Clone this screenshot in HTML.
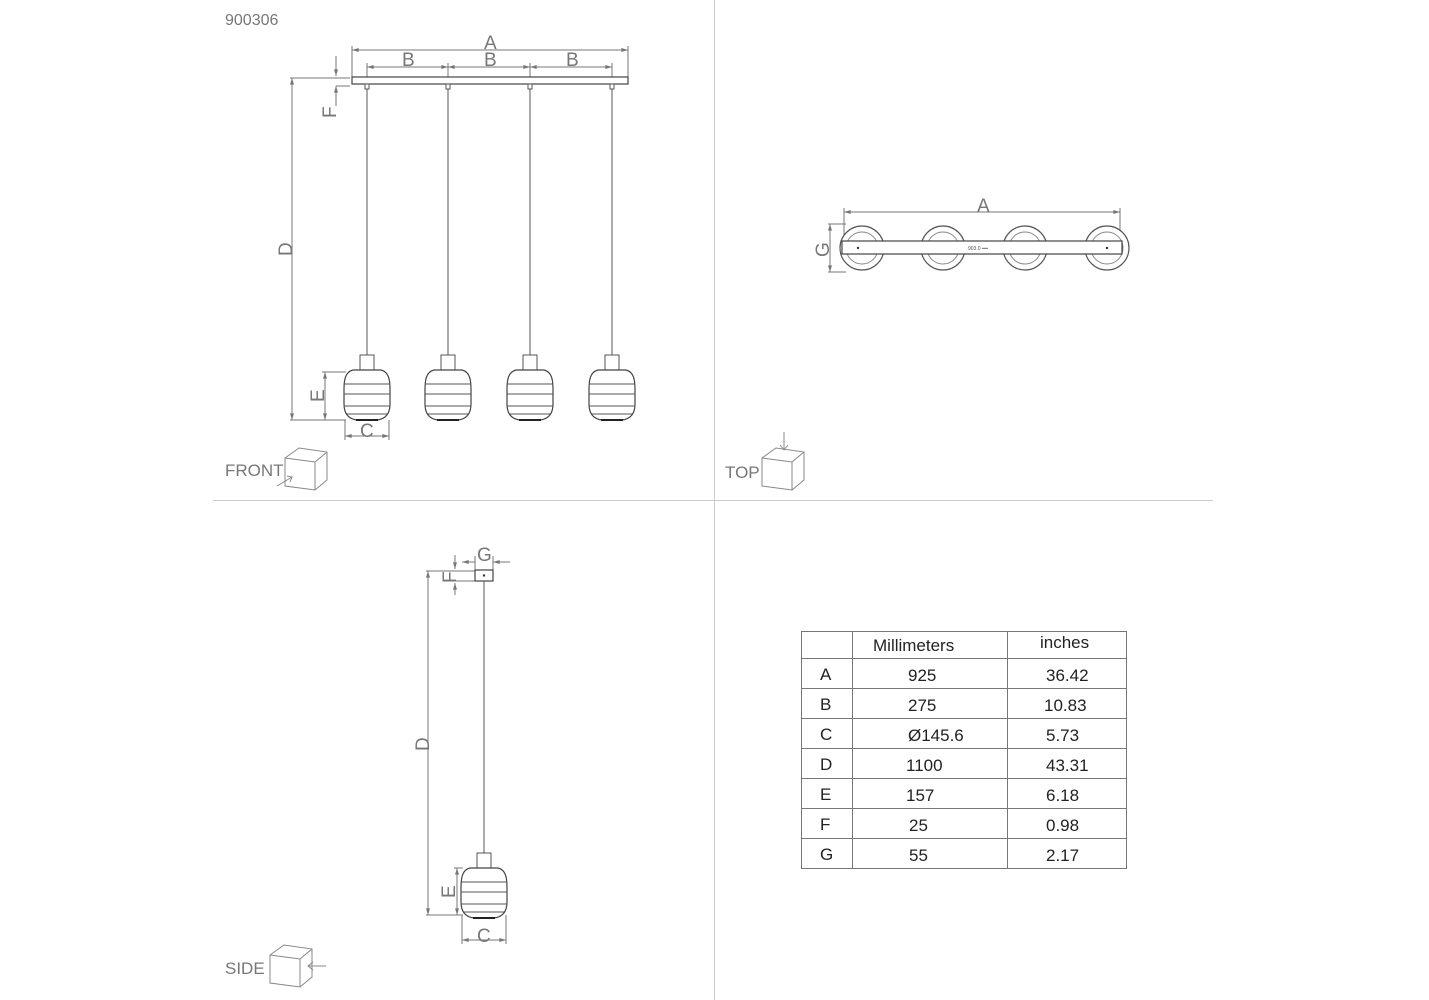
<!DOCTYPE html>
<html><head><meta charset="utf-8"><style>
html,body{margin:0;padding:0;background:#fff;}
svg{display:block;font-family:"Liberation Sans",sans-serif;}
</style></head><body>
<svg width="1429" height="1000" viewBox="0 0 1429 1000" xmlns="http://www.w3.org/2000/svg">
<defs>
<marker id="ar" viewBox="0 0 10 6" refX="10" refY="3" markerWidth="8" markerHeight="4" orient="auto-start-reverse"><path d="M0,0 L10,3 L0,6 z" fill="#777"/></marker>
<g id="lamp">
  <rect x="-7" y="-15" width="14" height="16" fill="#fff" stroke="#555" stroke-width="1"/>
  <path d="M-14,0 C-22,2 -23,10 -23,20 L-23,34 C-23,44 -18,49 -10,50 L10,50 C18,49 23,44 23,34 L23,20 C23,10 22,2 14,0 Z" fill="#fff" stroke="#444" stroke-width="1.2"/>
  <line x1="-23" y1="14" x2="23" y2="14" stroke="#555"/>
  <line x1="-23" y1="24" x2="23" y2="24" stroke="#555"/>
  <line x1="-23" y1="36" x2="23" y2="36" stroke="#555"/>
  <line x1="-20" y1="44" x2="20" y2="44" stroke="#555"/>
  <line x1="-11" y1="50" x2="11" y2="50" stroke="#222" stroke-width="2"/>
</g>
<g id="cube" fill="#fff" stroke="#888" stroke-width="1">
  <path d="M0,10 L14,0 L42,4 L42,32 L30,42 L0,38 Z"/>
  <path d="M0,10 L30,14 L42,4 M30,14 L30,42"/>
</g>
</defs>
<g stroke="#ccc" stroke-width="1">
<line x1="714.5" y1="0" x2="714.5" y2="1000"/>
<line x1="213" y1="500.5" x2="1213" y2="500.5"/>
</g>
<text x="225" y="25" font-size="16" fill="#777">900306</text>

<!-- FRONT -->
<g stroke="#777" stroke-width="1" fill="none">
<line x1="352" y1="50" x2="628" y2="50" marker-start="url(#ar)" marker-end="url(#ar)"/>
<line x1="352" y1="46" x2="352" y2="78"/><line x1="628" y1="46" x2="628" y2="78"/>
<line x1="367" y1="67" x2="448" y2="67" marker-start="url(#ar)" marker-end="url(#ar)"/>
<line x1="448" y1="67" x2="530" y2="67" marker-start="url(#ar)" marker-end="url(#ar)"/>
<line x1="530" y1="67" x2="612" y2="67" marker-start="url(#ar)" marker-end="url(#ar)"/>
<line x1="367" y1="63" x2="367" y2="78"/><line x1="448" y1="63" x2="448" y2="78"/><line x1="530" y1="63" x2="530" y2="78"/><line x1="612" y1="63" x2="612" y2="78"/>
<line x1="290" y1="78" x2="350" y2="78"/>
<line x1="292" y1="78" x2="292" y2="420" marker-start="url(#ar)" marker-end="url(#ar)"/>
<line x1="290" y1="420" x2="346" y2="420"/>
<line x1="336" y1="56" x2="336" y2="76" marker-end="url(#ar)"/>
<line x1="336" y1="106" x2="336" y2="86" marker-end="url(#ar)"/>
<line x1="336" y1="86" x2="350" y2="86"/>
<line x1="322" y1="372" x2="346" y2="372"/>
<line x1="325" y1="372" x2="325" y2="420" marker-start="url(#ar)" marker-end="url(#ar)"/>
<line x1="345" y1="420" x2="345" y2="440"/><line x1="389" y1="420" x2="389" y2="440"/>
<line x1="345" y1="436" x2="389" y2="436" marker-start="url(#ar)" marker-end="url(#ar)"/>
</g>
<g fill="#777" font-size="19">
<text x="484" y="49">A</text>
<text x="402" y="66">B</text><text x="484" y="66">B</text><text x="566" y="66">B</text>
<text x="360" y="437">C</text>
<text transform="translate(292,256) rotate(-90)">D</text>
<text transform="translate(324,402) rotate(-90)">E</text>
<text transform="translate(336,118) rotate(-90)">F</text>
</g>
<rect x="352" y="77" width="276" height="7" fill="#fff" stroke="#444" stroke-width="1.2"/>
<g stroke="#555" fill="#fff">
<rect x="365" y="84" width="4" height="5"/><rect x="446" y="84" width="4" height="5"/><rect x="528" y="84" width="4" height="5"/><rect x="610" y="84" width="4" height="5"/>
<line x1="367" y1="89" x2="367" y2="355"/><line x1="448" y1="89" x2="448" y2="355"/><line x1="530" y1="89" x2="530" y2="355"/><line x1="612" y1="89" x2="612" y2="355"/>
</g>
<use href="#lamp" x="367" y="370"/><use href="#lamp" x="448" y="370"/><use href="#lamp" x="530" y="370"/><use href="#lamp" x="612" y="370"/>
<text x="225" y="476" font-size="17" fill="#777">FRONT</text>
<use href="#cube" x="285" y="448"/>
<path d="M277,486 L292,477 M287,476 L292,477 L290,482" stroke="#888" fill="none"/>

<!-- TOP -->
<g stroke="#777" fill="none">
<line x1="844" y1="212" x2="1120" y2="212" marker-start="url(#ar)" marker-end="url(#ar)"/>
<line x1="844" y1="208" x2="844" y2="240"/><line x1="1120" y1="208" x2="1120" y2="240"/>
<line x1="828" y1="224" x2="846" y2="224"/><line x1="828" y1="272" x2="846" y2="272"/>
<line x1="830" y1="224" x2="830" y2="272" marker-start="url(#ar)" marker-end="url(#ar)"/>
</g>
<text x="977" y="212" font-size="19" fill="#777">A</text>
<text transform="translate(829,257) rotate(-90)" font-size="19" fill="#777">G</text>
<g stroke="#555" fill="#fff" stroke-width="1.2">
<circle cx="862" cy="248" r="22"/><circle cx="943" cy="248" r="22"/><circle cx="1025" cy="248" r="22"/><circle cx="1107" cy="248" r="22"/>
</g>
<g stroke="#888" fill="none">
<circle cx="862" cy="248" r="16"/><circle cx="943" cy="248" r="16"/><circle cx="1025" cy="248" r="16"/><circle cx="1107" cy="248" r="16"/>
</g>
<rect x="842" y="241" width="280" height="13" fill="#fff" stroke="#444" stroke-width="1.2"/>
<circle cx="858" cy="248" r="1.2" fill="#333"/><circle cx="1107" cy="248" r="1.2" fill="#333"/>
<text x="968" y="250" font-size="5" fill="#555">903.0 ━━</text>
<text x="725" y="478" font-size="17" fill="#777">TOP</text>
<use href="#cube" x="762" y="448"/>
<path d="M784,432 L784,450 M780,445 L784,450 L788,445" stroke="#888" fill="none"/>

<!-- SIDE -->
<g stroke="#777" fill="none">
<line x1="462" y1="562" x2="475" y2="562" marker-start="url(#ar)"/>
<line x1="493" y1="562" x2="510" y2="562" marker-start="url(#ar)"/>
<line x1="475" y1="556" x2="475" y2="570"/><line x1="493" y1="556" x2="493" y2="570"/>
<line x1="426" y1="571" x2="475" y2="571"/>
<line x1="428" y1="571" x2="428" y2="915" marker-start="url(#ar)" marker-end="url(#ar)"/>
<line x1="426" y1="915" x2="463" y2="915"/>
<line x1="455" y1="555" x2="455" y2="569" marker-end="url(#ar)"/>
<line x1="455" y1="595" x2="455" y2="583" marker-end="url(#ar)"/>
<line x1="452" y1="581" x2="475" y2="581"/>
<line x1="454" y1="868" x2="463" y2="868"/>
<line x1="457" y1="868" x2="457" y2="915" marker-start="url(#ar)" marker-end="url(#ar)"/>
<line x1="462" y1="915" x2="462" y2="944"/><line x1="506" y1="915" x2="506" y2="944"/>
<line x1="462" y1="940" x2="506" y2="940" marker-start="url(#ar)" marker-end="url(#ar)"/>
</g>
<g fill="#777" font-size="19">
<text x="477" y="561">G</text>
<text transform="translate(456,583) rotate(-90)">F</text>
<text transform="translate(429,751) rotate(-90)">D</text>
<text transform="translate(455,898) rotate(-90)">E</text>
<text x="477" y="942">C</text>
</g>
<rect x="475" y="570" width="18" height="11" fill="#fff" stroke="#444" stroke-width="1.2"/>
<circle cx="484" cy="575.5" r="1.2" fill="#333"/>
<line x1="484" y1="581" x2="484" y2="853" stroke="#555"/>
<use href="#lamp" x="484" y="868"/>
<text x="225" y="974" font-size="17" fill="#777">SIDE</text>
<use href="#cube" x="270" y="945"/>
<path d="M326,966 L308,966 M313,962 L308,966 L313,970" stroke="#888" fill="none"/>

<!-- TABLE -->
<g stroke="#777" stroke-width="1" fill="none">
<rect x="801.5" y="631.5" width="325" height="237"/>
<line x1="852.5" y1="631" x2="852.5" y2="868"/>
<line x1="1007.5" y1="631" x2="1007.5" y2="868"/>
<line x1="801" y1="658.5" x2="1127" y2="658.5"/>
<line x1="801" y1="688.5" x2="1127" y2="688.5"/>
<line x1="801" y1="718.5" x2="1127" y2="718.5"/>
<line x1="801" y1="748.5" x2="1127" y2="748.5"/>
<line x1="801" y1="778.5" x2="1127" y2="778.5"/>
<line x1="801" y1="808.5" x2="1127" y2="808.5"/>
<line x1="801" y1="838.5" x2="1127" y2="838.5"/>
</g>
<g font-size="17" fill="#222">
<text x="873" y="651">Millimeters</text><text x="1040" y="648">inches</text>
<text x="820" y="680">A</text><text x="908" y="681">925</text><text x="1046" y="681">36.42</text>
<text x="820" y="710">B</text><text x="908" y="711">275</text><text x="1044" y="711">10.83</text>
<text x="820" y="740">C</text><text x="908" y="741">Ø145.6</text><text x="1046" y="741">5.73</text>
<text x="820" y="770">D</text><text x="906" y="771">1100</text><text x="1046" y="771">43.31</text>
<text x="820" y="800">E</text><text x="906" y="801">157</text><text x="1046" y="801">6.18</text>
<text x="820" y="830">F</text><text x="909" y="831">25</text><text x="1046" y="831">0.98</text>
<text x="820" y="860">G</text><text x="909" y="861">55</text><text x="1046" y="861">2.17</text>
</g>
</svg>
</body></html>
